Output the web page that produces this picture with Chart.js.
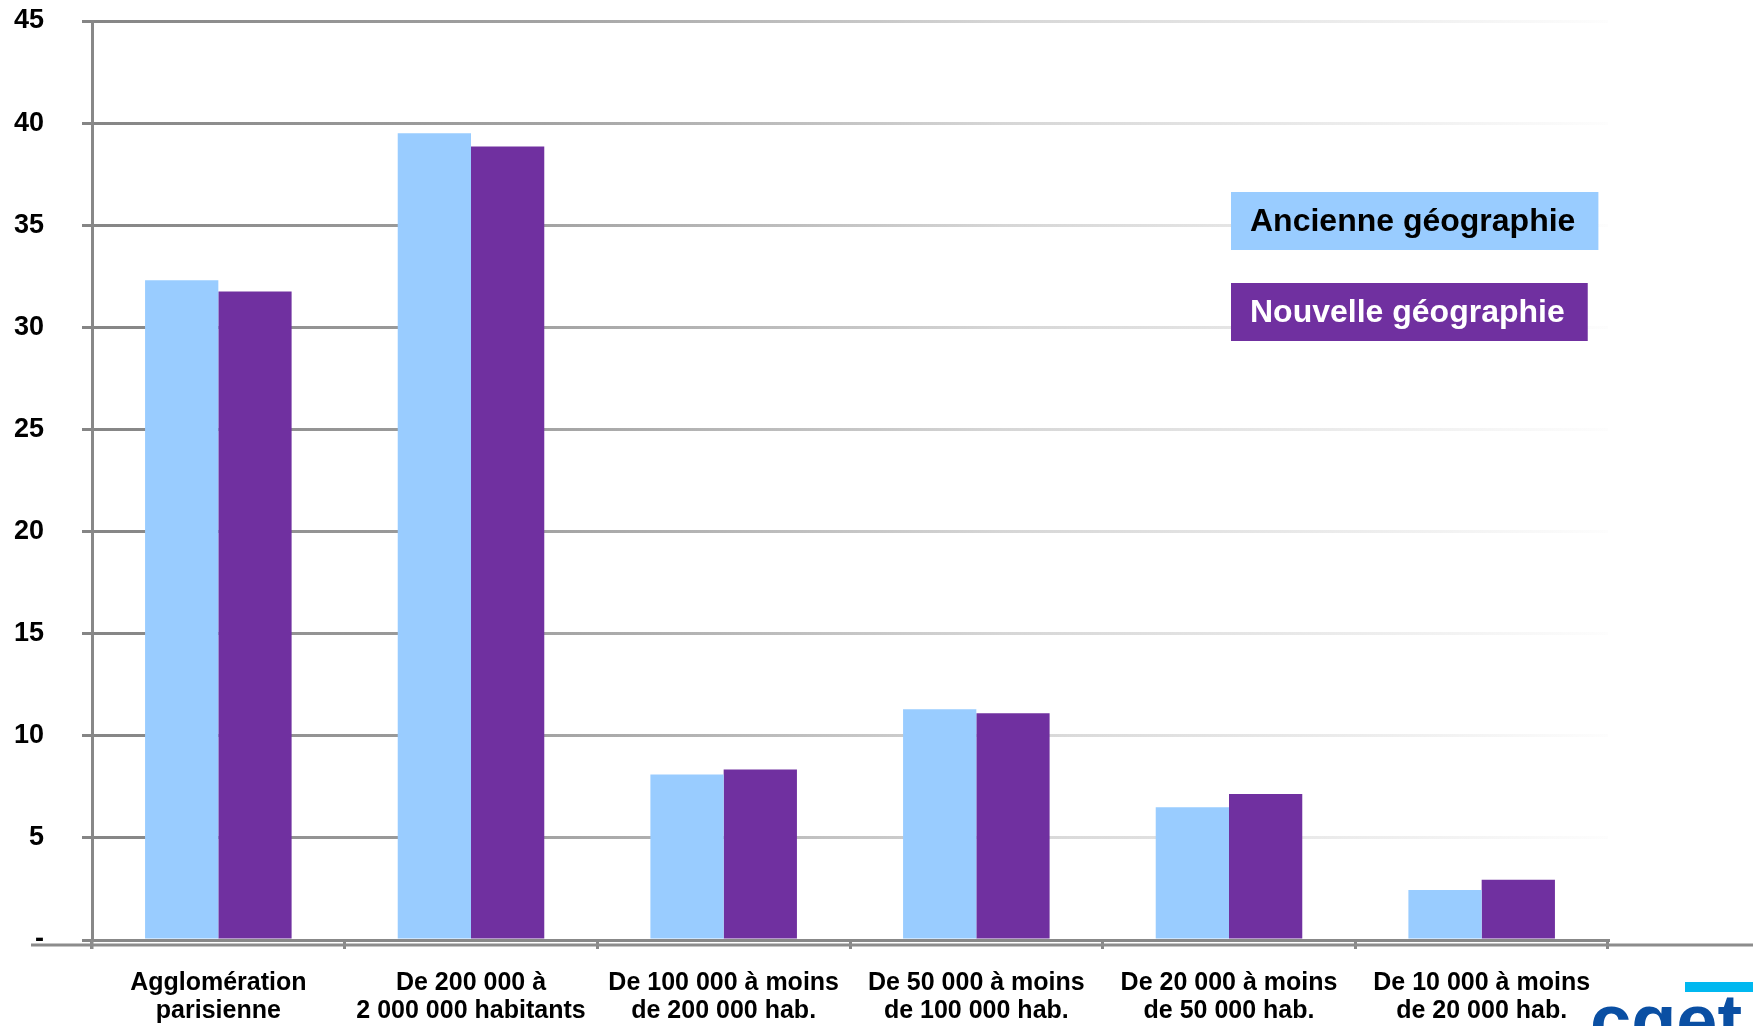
<!DOCTYPE html>
<html>
<head>
<meta charset="utf-8">
<script src="https://cdn.jsdelivr.net/npm/chart.js@4.4.1/dist/chart.umd.min.js"></script>
<style>
  html, body { margin: 0; padding: 0; background: #fff; }
  #wrap { position: relative; width: 1753px; height: 1026px; }
</style>
</head>
<body>
<div id="wrap"><canvas id="myChart"></canvas></div>
<script>
// categories (city size classes)
const categories = [
	['Agglomération', 'parisienne'],
	['De 200 000 à', '2 000 000 habitants'],
	['De 100 000 à moins', 'de 200 000 hab.'],
	['De 50 000 à moins', 'de 100 000 hab.'],
	['De 20 000 à moins', 'de 50 000 hab.'],
	['De 10 000 à moins', 'de 20 000 hab.']
];
const seriesNames = ['Ancienne géographie', 'Nouvelle géographie'];
const ancienne = [32.3, 39.5, 8.1, 11.3, 6.5, 2.45];
const nouvelle = [31.75, 38.85, 8.35, 11.1, 7.15, 2.95];
const yTicks = [0, 5, 10, 15, 20, 25, 30, 35, 40, 45];

const FONT = "'Liberation Sans', Arial, sans-serif";
const LIGHT = '#99CCFF';
const PURPLE = '#7030A0';

// fading grey gridlines, dark on the left
function gridGradient(context) {
	let chart = context.chart;
	let area = chart.chartArea;
	if (!area) return '#888';
	let g = chart.ctx.createLinearGradient(area.left, 0, area.right, 0);
	g.addColorStop(0, '#858585');
	g.addColorStop(0.3, '#a3a3a3');
	g.addColorStop(0.6, '#d6d6d6');
	g.addColorStop(0.85, '#eeeeee');
	g.addColorStop(1, '#fdfdfd');
	return g;
}

// legend drawn as coloured boxes with the label inside
const boxLegend = {
	id: 'boxLegend',
	afterDraw(chart) {
		let ctx = chart.ctx;
		let x = 1231;
		let tops = [192, 283];
		ctx.save();
		ctx.font = 'bold 32px ' + FONT;
		ctx.textBaseline = 'middle';
		chart.data.datasets.forEach((ds, i) => {
			let w = ctx.measureText(ds.label).width;
			ctx.fillStyle = ds.backgroundColor;
			ctx.fillRect(x, tops[i], w + 42, 58);
			ctx.fillStyle = i === 0 ? '#000' : '#fff';
			ctx.fillText(ds.label, x + 19, tops[i] + 30);
		});
		ctx.restore();
	}
};

// extra base line under the axis and the logo in the corner
const decor = {
	id: 'decor',
	afterDraw(chart) {
		let ctx = chart.ctx;
		let y0 = chart.scales.y.getPixelForValue(0);
		let x0 = chart.chartArea.left;
		ctx.save();
		ctx.strokeStyle = '#8c8c8c';
		ctx.lineWidth = 3;
		ctx.beginPath();
		ctx.moveTo(31, y0 + 5);
		ctx.lineTo(1753, y0 + 5);
		ctx.moveTo(x0, y0);
		ctx.lineTo(x0, y0 + 9);
		ctx.stroke();
		ctx.fillStyle = '#00B8F0';
		ctx.fillRect(1685, 982, 68, 10);
		ctx.fillStyle = '#0A4FA3';
		ctx.font = 'bold 74px ' + FONT;
		ctx.textBaseline = 'alphabetic';
		ctx.fillText('cget', 1590, 1046);
		ctx.restore();
	}
};

let myChart = new Chart(document.getElementById('myChart'), {
	type: 'bar',
	data: {
		labels: categories,
		datasets: [{
			label: seriesNames[0],
			data: ancienne,
			backgroundColor: LIGHT,
			categoryPercentage: 0.58,
			barPercentage: 1.0
		}, {
			label: seriesNames[1],
			data: nouvelle,
			backgroundColor: PURPLE,
			categoryPercentage: 0.58,
			barPercentage: 1.0
		}]
	},
	options: {
		responsive: true,
		maintainAspectRatio: false,
		animation: false,
		layout: { padding: { left: 14, right: 145, top: 21, bottom: 0 } },
		plugins: {
			legend: { display: false },
			tooltip: { enabled: false }
		},
		scales: {
			x: {
				afterFit: axis => { axis.height = 86; },
				grid: {
					offset: true,
					drawOnChartArea: false,
					color: '#888',
					lineWidth: 3,
					tickLength: 9
				},
				border: { color: '#888', width: 3 },
				ticks: {
					color: '#000',
					font: { family: FONT, size: 25, weight: 'bold', lineHeight: 1.12 },
					padding: 20,
					autoSkip: false,
					maxRotation: 0
				}
			},
			y: {
				min: 0,
				max: 45,
				afterBuildTicks: axis => { axis.ticks = yTicks.map(v => ({ value: v })); },
				afterFit: axis => { axis.width = 78; axis.paddingTop = 0; },
				grid: {
					color: gridGradient,
					lineWidth: 3,
					tickLength: 10
				},
				border: { color: '#888', width: 3 },
				ticks: {
					color: '#000',
					font: { family: FONT, size: 27, weight: 'bold' },
					padding: 38,
					callback: v => v === 0 ? '-' : v
				}
			}
		}
	},
	plugins: [boxLegend, decor]
});
</script>
</body>
</html>
